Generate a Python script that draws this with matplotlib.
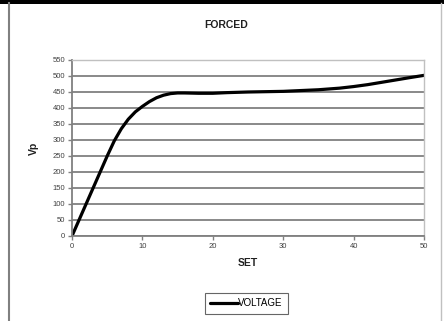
import matplotlib
matplotlib.use("Agg")
import matplotlib.pyplot as plt
from matplotlib.lines import Line2D
from matplotlib.patches import Rectangle

plt.rcParams['font.family'] = ['Liberation Sans', 'DejaVu Sans']

set_vals = [0, 1, 2, 3, 4, 5, 6, 7, 8, 9, 10, 11, 12, 13, 14, 15, 16, 18, 20,
            22, 25, 30, 35, 38, 40, 42, 45, 48, 50]
voltage = [0, 50, 100, 150, 200, 250, 297, 335, 365, 388, 405, 420, 432, 440, 445, 447, 447, 446, 446,
           448, 450, 452, 457, 462, 467, 473, 484, 495, 502]
x_ticks = [0, 10, 20, 30, 40, 50]
y_ticks = list(range(0, 551, 50))

fig = plt.figure(figsize=(4.44, 3.21), dpi=100)
fig.patch.set_facecolor('white')

# outer frame
fig.add_artist(Rectangle((0, 1 - 3.5 / 321), 1, 3.5 / 321, transform=fig.transFigure,
                         facecolor='black', edgecolor='none'))
fig.add_artist(Line2D([8.5 / 444, 8.5 / 444], [0, 1 - 3 / 321], transform=fig.transFigure,
                      color='#808080', lw=1.5))
fig.add_artist(Line2D([441 / 444, 441 / 444], [0, 1 - 3 / 321], transform=fig.transFigure,
                      color='#c0c0c0', lw=1.0))

ax = fig.add_axes([72 / 444, 1 - 236 / 321, (424 - 72) / 444, (236 - 60) / 321])
ax.plot(set_vals, voltage, color='black', lw=2.3, label='VOLTAGE',
        solid_capstyle='round', solid_joinstyle='round')
ax.set_xlim(0, 50)
ax.set_ylim(0, 550)
ax.set_xticks(x_ticks)
ax.set_yticks(y_ticks)
ax.tick_params(axis='both', labelsize=5.5, colors='#808080', labelcolor='#404040',
               length=3, width=1, direction='out', pad=2)
ax.yaxis.grid(True, color='#808080', lw=1.3)
ax.set_axisbelow(True)
for s in ['left', 'bottom']:
    ax.spines[s].set_color('#808080')
    ax.spines[s].set_linewidth(1.3)
for s in ['top', 'right']:
    ax.spines[s].set_color('#c0c0c0')
    ax.spines[s].set_linewidth(1.0)

fig.text(226 / 444, 1 - 25 / 321, 'FORCED', ha='center', va='center',
         fontsize=7.5, fontweight='bold', color='#202020')
ax.set_xlabel('SET', fontsize=7.5, fontweight='bold', color='#202020', labelpad=6)
ax.set_ylabel('Vp', fontsize=7.5, fontweight='bold', color='#202020', labelpad=10)

leg = fig.legend(loc='center', bbox_to_anchor=(246.5 / 444, 1 - 303.5 / 321),
                 fontsize=7, frameon=True, fancybox=False, handlelength=2.8,
                 handletextpad=0.05, borderpad=0.55, borderaxespad=0, edgecolor='#404040')
leg.get_frame().set_linewidth(0.8)

fig.savefig('out.png', dpi=100, facecolor='white')
